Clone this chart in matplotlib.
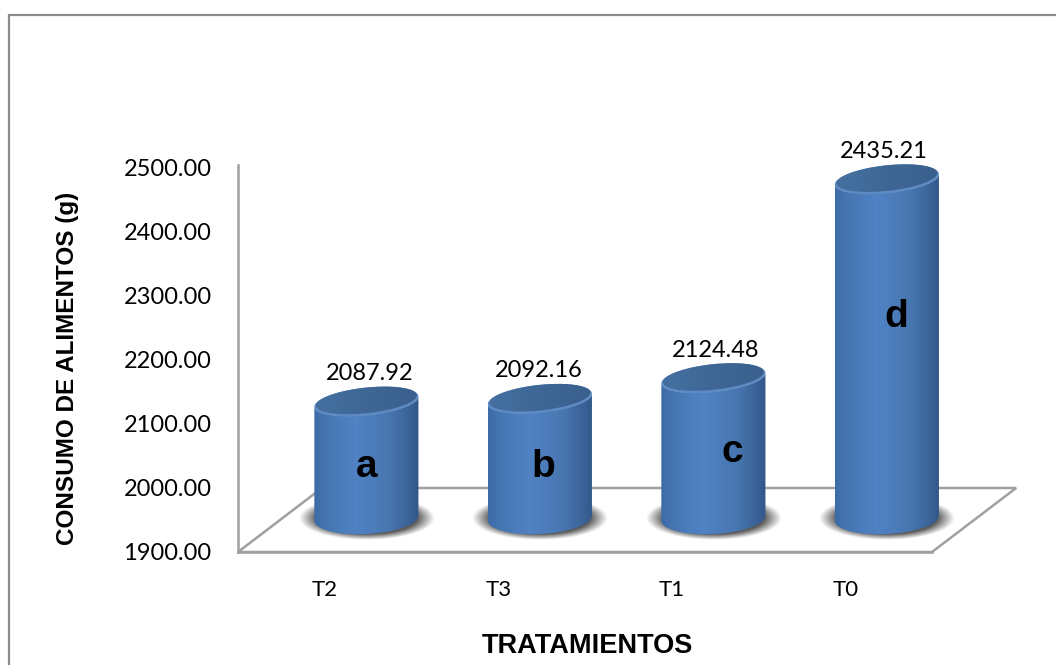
#!/usr/bin/python3
import numpy as np
import matplotlib
matplotlib.use('Agg')
from matplotlib import pyplot as plt
from matplotlib.colors import LinearSegmentedColormap
from matplotlib.patches import PathPatch, Polygon, Rectangle
from matplotlib.path import Path

# food intake per treatment
tratamientos = ['T2', 'T3', 'T1', 'T0']
consumo = [2087.92, 2092.16, 2124.48, 2435.21]
letras = ['a', 'b', 'c', 'd']
yticks = [1900, 2000, 2100, 2200, 2300, 2400, 2500]

W, H = 1056, 665
GRIS = '#8c8c8c'
EJE = '#a0a0a0'

# 3d look of the chart, in x slots and in axis units
DX = 0.24        # cylinders sit back from the labels
RADIO = 0.30
DY_TOP = 47      # the top of a cylinder is pushed up by the floor depth
BASE = 1953
ETIQUETA_DX = [0.017, -0.006, 0.012, -0.017]
LETRA_X = [367, 543, 732, 896]
LETRA_Y = [467, 467, 452, 317]

body_cmap = LinearSegmentedColormap.from_list('body', [
    (0.0, '#3c6ba6'), (0.12, '#4676b2'), (0.40, '#5082c4'),
    (0.72, '#4876b0'), (0.92, '#3a6296'), (1.0, '#335788')])
top_cmap = LinearSegmentedColormap.from_list('top', ['#44709f', '#3f6796', '#3a5f8c'])


def ellipse(cx, cy, a, b, tilt, t):
    return cx + a * np.cos(t), cy + b * np.sin(t) + tilt * np.cos(t)


def gradient(ax, patch, cmap, extent):
    ax.add_patch(patch)
    im = ax.imshow(np.linspace(0, 1, 256)[None, :], cmap=cmap, extent=extent,
                   aspect='auto', zorder=patch.get_zorder(), interpolation='bilinear')
    # the images may leave the axes box, only the patch limits them
    im.set_clip_box(ax.figure.bbox)
    im.set_clip_path(patch)


def shadow(ax, cx, cy, a, b, z):
    gx, gy = np.meshgrid(np.linspace(-1, 1, 200), np.linspace(-1, 1, 100))
    r = np.sqrt(gx ** 2 + gy ** 2)
    img = np.zeros((100, 200, 4))
    img[..., :3] = 0.28
    img[..., 3] = np.clip((1 - r) / 0.26, 0, 1) * 0.9
    ax.imshow(img, extent=(cx - a, cx + a, cy - b, cy + b), aspect='auto', zorder=z,
              interpolation='bilinear', clip_on=False)


def cylinder(ax, cx, value, z):
    top = value + DY_TOP
    t_lo = np.linspace(0, -np.pi, 60)
    # side wall: lower half of the base, then back along the upper cap
    bx, by = ellipse(cx, BASE, RADIO, 25, 4, t_lo)
    ux, uy = ellipse(cx, top, RADIO, 21, 8, t_lo[::-1])
    side = np.column_stack([np.r_[bx, ux], np.r_[by, uy]])
    patch = PathPatch(Path(side), fc='none', ec='none', zorder=z, clip_on=False)
    gradient(ax, patch, body_cmap, (cx - RADIO, cx + RADIO, 1900, 2600))

    # lighter rim under the cap
    t = np.linspace(0, 2 * np.pi, 120)
    rx, ry = ellipse(cx, top, RADIO, 22, 8, t)
    ax.add_patch(Polygon(np.column_stack([rx, ry]), fc='#5d8ac2', ec='none', zorder=z + 0.1,
                         clip_on=False))
    qx, qy = ellipse(cx, top + 2, RADIO * 0.97, 20, 8, t)
    cap = Polygon(np.column_stack([qx, qy]), fc='none', ec='none', zorder=z + 0.2, clip_on=False)
    gradient(ax, cap, top_cmap, (cx - RADIO, cx + RADIO, 1900, 2600))


def main():
    fig = plt.figure(figsize=(W / 100, H / 100), dpi=100)
    fig.patch.set_facecolor('white')

    # outer chart frame, it runs off the right and bottom edges
    fig.add_artist(Rectangle((8.5 / W, 1 - 720 / H), 1100 / W, 705 / H, fc='none', ec=GRIS, lw=1.6,
                             transform=fig.transFigure))

    ax = fig.add_axes([238 / W, 1 - 552 / H, 694 / W, 384 / H])
    x = np.arange(len(consumo))

    # floor of the 3d plot
    floor = [(-0.5, 1900), (3.5, 1900), (3.985, 2000), (-0.016, 2000)]
    ax.add_patch(Polygon(floor, closed=True, fc='white', ec=EJE, lw=1.8, clip_on=False, zorder=1))

    for i, v, dx in zip(x, consumo, ETIQUETA_DX):
        shadow(ax, i + DX, 1952, 0.39, 34, 2)
        cylinder(ax, i + DX, v, 3 + i)
        ax.text(i + DX + dx, v + 91, f'{v:.2f}', ha='center', va='center', fontsize=17,
                family='Lato', color='black', zorder=10)

    ax.set_xlim(-0.5, 3.5)
    ax.set_ylim(1900, 2500)
    ax.set_xticks(x)
    ax.set_xticklabels(tratamientos, family='Lato', fontsize=16)
    ax.set_yticks(yticks)
    ax.set_yticklabels([f'{v:.2f}' for v in yticks], family='Lato', fontsize=17)
    ax.tick_params(axis='both', length=0)
    ax.tick_params(axis='y', pad=19)
    ax.tick_params(axis='x', pad=20)
    ax.patch.set_visible(False)
    for s in ['top', 'right']:
        ax.spines[s].set_visible(False)
    for s in ['left', 'bottom']:
        ax.spines[s].set_color(EJE)
        ax.spines[s].set_linewidth(1.8)
        ax.spines[s].set_zorder(1.5)
    ax.spines['left'].set_bounds(1900, 2505)

    for l, px, py in zip(letras, LETRA_X, LETRA_Y):
        fig.text(px / W, 1 - py / H, l, ha='center', va='center', family='Liberation Sans',
                 fontweight='bold', fontsize=28, color='black', zorder=20)

    fig.text(587 / W, 1 - 646 / H, 'TRATAMIENTOS', ha='center', va='center',
             family='Liberation Sans', fontweight='bold', fontsize=19.5)
    fig.text(68 / W, 1 - 368 / H, 'CONSUMO DE ALIMENTOS (g)', ha='center', va='center', rotation=90,
             family='Liberation Sans', fontweight='bold', fontsize=17.5)

    fig.savefig('out.png', dpi=100)


if __name__ == "__main__":
    main()
